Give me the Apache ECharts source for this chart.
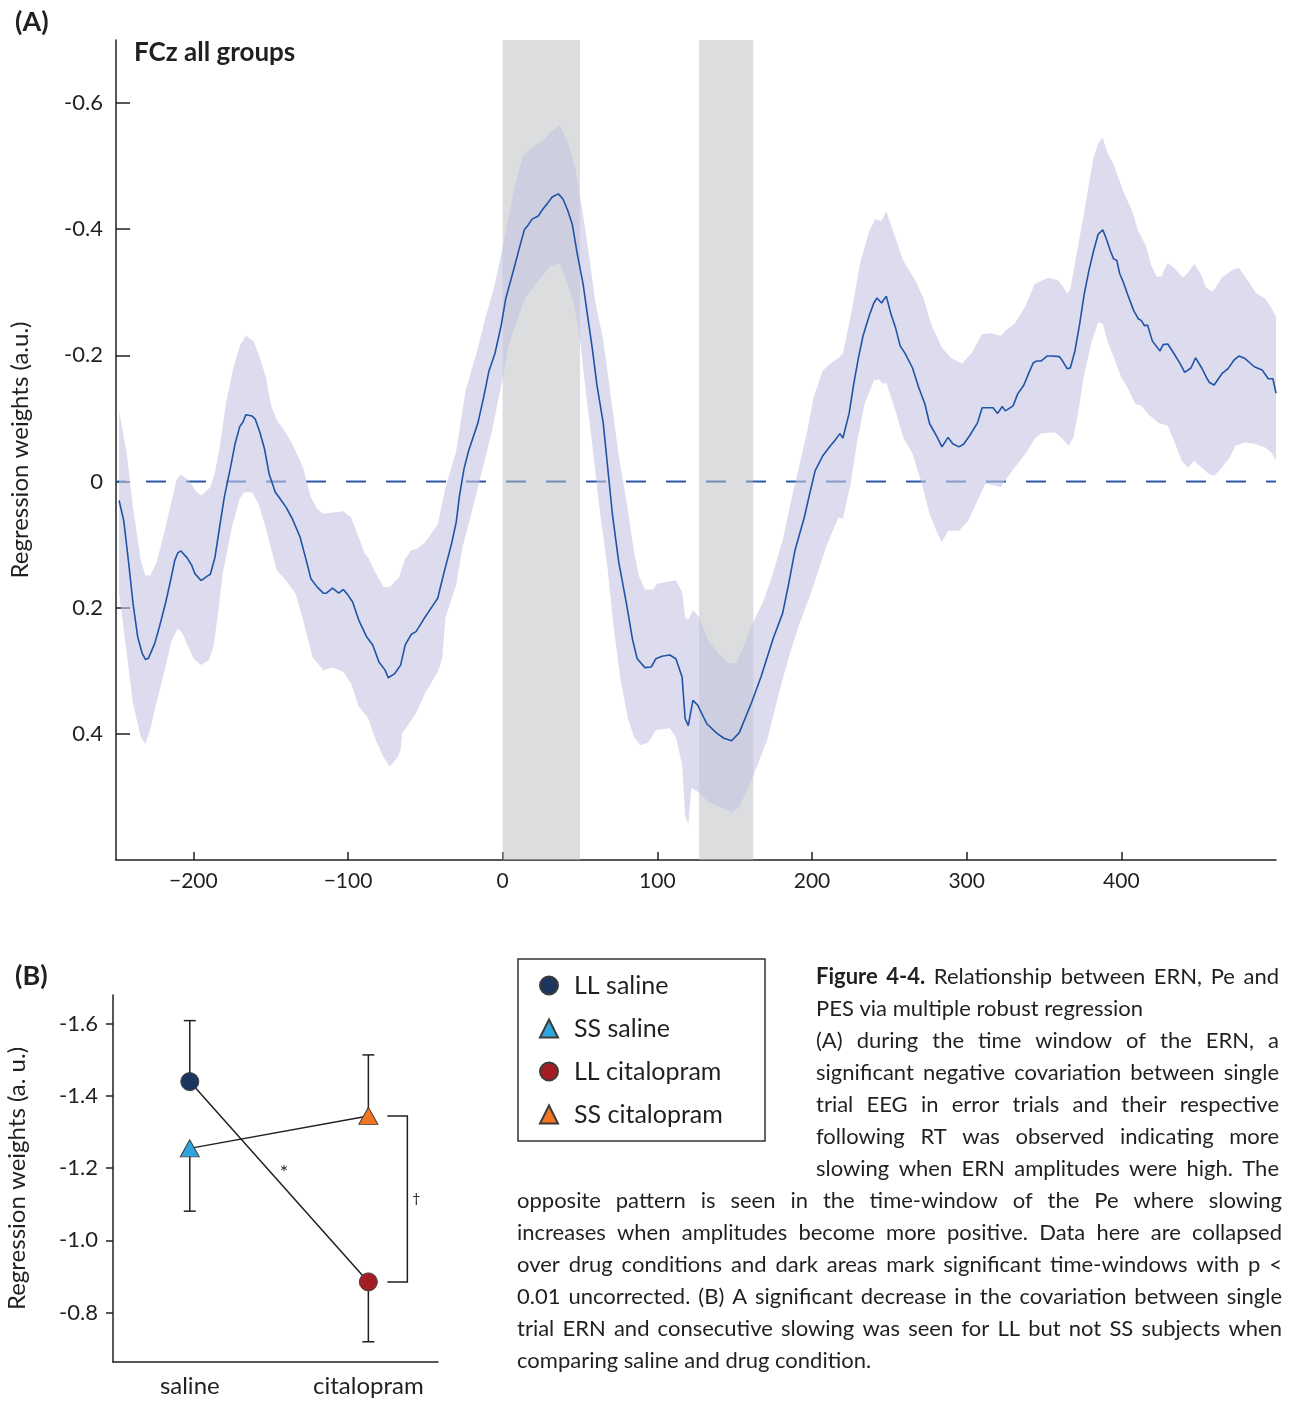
<!DOCTYPE html>
<html>
<head>
<meta charset="utf-8">
<script src="https://cdn.jsdelivr.net/npm/echarts@6/dist/echarts.min.js"></script>
<style>
  html, body { margin: 0; padding: 0; background: #fff; }
  #fig { width: 1289px; height: 1401px; }
</style>
</head>
<body>
<div id="fig"></div>
<script>
// ---------- Panel A: FCz regression weights over time (ms) ----------
const meanCurve = [
  [-248,0.030],[-245,0.062],[-242,0.125],[-239,0.193],[-236,0.246],[-233,0.273],[-231,0.282],[-229,0.280],
  [-225,0.257],[-222,0.231],[-218,0.193],[-215,0.160],[-212,0.125],[-210,0.113],[-208,0.110],[-204,0.121],
  [-201,0.133],[-199,0.146],[-195,0.157],[-194,0.158],[-191,0.150],[-189,0.147],[-186,0.120],[-183,0.072],
  [-180,0.025],[-176,-0.022],[-173,-0.060],[-170,-0.087],[-168,-0.094],[-166,-0.106],[-162,-0.104],[-160,-0.099],
  [-157,-0.078],[-154,-0.052],[-151,-0.012],[-147,0.017],[-144,0.027],[-140,0.041],[-136,0.059],[-131,0.088],
  [-127,0.125],[-124,0.154],[-120,0.167],[-116,0.177],[-114,0.177],[-110,0.169],[-106,0.177],[-103,0.171],
  [-100,0.180],[-97,0.191],[-93,0.220],[-88,0.246],[-87,0.244],[-84,0.259],[-80,0.286],[-76,0.299],
  [-74,0.311],[-70,0.305],[-66,0.291],[-63,0.259],[-59,0.242],[-56,0.238],[-51,0.218],[-45,0.196],
  [-42,0.185],[-38,0.145],[-33,0.098],[-30,0.064],[-28,0.024],[-25,-0.020],[-22,-0.049],[-16,-0.093],
  [-12,-0.137],[-9,-0.174],[-5,-0.203],[-1,-0.247],[2,-0.290],[7,-0.335],[11,-0.372],[14,-0.399],
  [16,-0.405],[19,-0.416],[23,-0.421],[26,-0.432],[29,-0.441],[32,-0.451],[36,-0.456],[39,-0.448],
  [42,-0.430],[45,-0.408],[48,-0.364],[52,-0.313],[55,-0.261],[58,-0.210],[61,-0.152],[65,-0.093],
  [68,-0.020],[71,0.053],[75,0.127],[80,0.193],[84,0.251],[87,0.281],[92,0.295],[96,0.294],
  [99,0.281],[103,0.277],[108,0.275],[112,0.281],[116,0.310],[118,0.376],[120,0.387],[123,0.347],
  [126,0.354],[132,0.384],[138,0.398],[143,0.407],[148,0.411],[153,0.398],[161,0.350],[167,0.310],
  [175,0.248],[181,0.209],[185,0.161],[189,0.109],[195,0.057],[199,0.014],[202,-0.017],[207,-0.041],
  [211,-0.054],[215,-0.066],[218,-0.076],[220,-0.069],[224,-0.108],[227,-0.155],[230,-0.196],[233,-0.231],
  [237,-0.263],[240,-0.283],[242,-0.291],[245,-0.283],[248,-0.294],[251,-0.266],[254,-0.244],[257,-0.215],
  [260,-0.204],[265,-0.180],[269,-0.149],[273,-0.123],[276,-0.092],[281,-0.070],[284,-0.055],[288,-0.070],
  [291,-0.060],[295,-0.055],[298,-0.059],[302,-0.073],[307,-0.093],[310,-0.117],[314,-0.117],[317,-0.117],
  [320,-0.108],[323,-0.119],[325,-0.112],[330,-0.120],[333,-0.139],[337,-0.153],[340,-0.171],[343,-0.188],
  [345,-0.191],[348,-0.191],[352,-0.199],[355,-0.199],[360,-0.198],[362,-0.191],[365,-0.179],[367,-0.180],
  [370,-0.207],[373,-0.249],[376,-0.297],[379,-0.334],[382,-0.365],[385,-0.392],[388,-0.399],[390,-0.387],
  [393,-0.365],[395,-0.353],[397,-0.351],[399,-0.329],[401,-0.318],[404,-0.297],[408,-0.271],[411,-0.258],
  [413,-0.255],[415,-0.247],[417,-0.248],[420,-0.223],[425,-0.207],[427,-0.217],[430,-0.218],[433,-0.207],
  [438,-0.187],[441,-0.173],[445,-0.180],[448,-0.196],[452,-0.180],[455,-0.165],[457,-0.157],[460,-0.153],
  [465,-0.171],[469,-0.179],[473,-0.193],[476,-0.199],[480,-0.195],[486,-0.182],[491,-0.177],[495,-0.163],
  [498,-0.163],[500,-0.140]
];

// upper edge of the confidence band (more negative side)
const bandUpper = [
  [-248,-0.112],[-243,-0.044],[-239,0.041],[-234,0.125],[-231,0.149],[-228,0.149],[-224,0.130],[-219,0.083],
  [-215,0.041],[-211,-0.002],[-208,-0.011],[-203,-0.002],[-198,0.016],[-195,0.022],[-189,0.009],[-186,-0.015],
  [-183,-0.054],[-179,-0.123],[-174,-0.181],[-170,-0.215],[-166,-0.231],[-161,-0.223],[-157,-0.196],[-153,-0.165],
  [-150,-0.123],[-146,-0.097],[-142,-0.084],[-136,-0.060],[-129,-0.022],[-124,0.025],[-120,0.043],[-116,0.051],
  [-110,0.049],[-103,0.047],[-98,0.057],[-94,0.083],[-89,0.115],[-87,0.120],[-83,0.141],[-77,0.167],
  [-73,0.167],[-67,0.152],[-63,0.122],[-59,0.109],[-55,0.106],[-50,0.096],[-42,0.068],[-37,0.010],
  [-30,-0.049],[-24,-0.144],[-17,-0.203],[-11,-0.261],[-5,-0.313],[0,-0.372],[7,-0.459],[13,-0.517],
  [19,-0.529],[26,-0.540],[31,-0.554],[37,-0.565],[43,-0.532],[47,-0.495],[52,-0.422],[56,-0.356],
  [60,-0.283],[65,-0.225],[69,-0.152],[75,-0.042],[81,0.046],[85,0.112],[88,0.149],[92,0.171],
  [97,0.171],[100,0.162],[108,0.158],[112,0.157],[116,0.175],[118,0.215],[120,0.219],[123,0.204],
  [127,0.215],[133,0.252],[140,0.274],[146,0.288],[151,0.288],[155,0.266],[161,0.228],[168,0.193],
  [174,0.152],[181,0.093],[187,0.025],[193,-0.038],[197,-0.081],[201,-0.133],[207,-0.176],[212,-0.187],
  [217,-0.196],[220,-0.203],[226,-0.275],[231,-0.345],[237,-0.397],[241,-0.416],[245,-0.413],[248,-0.429],
  [254,-0.386],[259,-0.350],[267,-0.318],[272,-0.291],[277,-0.250],[284,-0.212],[290,-0.196],[297,-0.187],
  [303,-0.203],[310,-0.234],[316,-0.235],[322,-0.231],[325,-0.239],[331,-0.250],[338,-0.278],[344,-0.313],
  [348,-0.318],[353,-0.323],[359,-0.319],[362,-0.310],[365,-0.298],[367,-0.305],[371,-0.360],[375,-0.413],
  [379,-0.471],[382,-0.513],[385,-0.536],[388,-0.545],[391,-0.521],[395,-0.503],[398,-0.482],[402,-0.456],
  [407,-0.429],[411,-0.397],[416,-0.373],[419,-0.345],[423,-0.324],[426,-0.326],[430,-0.347],[434,-0.339],
  [440,-0.323],[443,-0.331],[447,-0.345],[451,-0.331],[455,-0.307],[459,-0.301],[465,-0.323],[471,-0.334],
  [476,-0.339],[482,-0.318],[487,-0.299],[493,-0.290],[497,-0.275],[500,-0.262]
];

// lower edge of the confidence band (more positive side)
const bandLower = [
  [-248,0.177],[-243,0.273],[-239,0.352],[-234,0.405],[-231,0.416],[-228,0.394],[-224,0.352],[-219,0.304],
  [-214,0.252],[-210,0.233],[-207,0.241],[-200,0.280],[-195,0.291],[-190,0.283],[-187,0.262],[-184,0.209],
  [-181,0.146],[-175,0.072],[-170,0.027],[-167,0.017],[-162,0.017],[-158,0.035],[-154,0.066],[-150,0.104],
  [-146,0.141],[-140,0.157],[-134,0.177],[-129,0.220],[-123,0.278],[-116,0.299],[-110,0.295],[-103,0.302],
  [-98,0.320],[-93,0.357],[-87,0.375],[-82,0.410],[-77,0.437],[-73,0.452],[-68,0.437],[-66,0.426],
  [-65,0.399],[-62,0.389],[-56,0.367],[-50,0.335],[-42,0.302],[-39,0.280],[-37,0.215],[-30,0.163],
  [-26,0.104],[-19,0.039],[-13,-0.020],[-7,-0.079],[-1,-0.152],[4,-0.217],[10,-0.261],[14,-0.288],
  [19,-0.306],[25,-0.324],[31,-0.342],[37,-0.346],[41,-0.320],[46,-0.283],[50,-0.225],[54,-0.137],
  [58,-0.057],[62,0.031],[68,0.141],[72,0.236],[76,0.310],[81,0.376],[85,0.405],[89,0.418],
  [94,0.414],[99,0.394],[108,0.391],[112,0.405],[116,0.449],[118,0.530],[120,0.544],[122,0.486],
  [127,0.493],[133,0.508],[140,0.515],[148,0.525],[153,0.515],[161,0.473],[171,0.410],[178,0.341],
  [185,0.278],[192,0.225],[200,0.172],[209,0.104],[217,0.057],[220,0.059],[225,0.003],[229,-0.060],
  [234,-0.123],[240,-0.160],[243,-0.162],[246,-0.155],[248,-0.157],[254,-0.112],[259,-0.070],[265,-0.044],
  [271,0.003],[276,0.051],[281,0.082],[284,0.096],[288,0.078],[295,0.078],[301,0.062],[308,0.025],
  [312,0.003],[318,0.006],[322,0.009],[325,-0.002],[331,-0.022],[338,-0.044],[344,-0.068],[348,-0.076],
  [357,-0.078],[361,-0.070],[366,-0.057],[369,-0.070],[372,-0.108],[376,-0.171],[381,-0.223],[385,-0.252],
  [388,-0.250],[391,-0.223],[396,-0.191],[400,-0.165],[404,-0.149],[409,-0.123],[413,-0.120],[417,-0.108],
  [424,-0.093],[430,-0.089],[434,-0.065],[439,-0.033],[443,-0.022],[447,-0.033],[452,-0.022],[456,-0.013],
  [460,-0.009],[465,-0.022],[470,-0.038],[474,-0.057],[480,-0.062],[486,-0.060],[493,-0.054],[497,-0.046],
  [500,-0.033]
];

// significant time windows (ms)
const sigWindows = [[0, 50], [127, 162]];
const timeTicks = [-200, -100, 0, 100, 200, 300, 400];
const weightTicksA = [-0.6, -0.4, -0.2, 0, 0.2, 0.4];

// ---------- Panel B: group x drug regression weights ----------
const conditions = ['saline', 'citalopram'];
const groupNames = ['LL saline', 'SS saline', 'LL citalopram', 'SS citalopram'];
const llMeans = [-1.44, -0.885];
const llErrEnds = [-1.609, -0.719];
const ssMeans = [-1.255, -1.345];
const ssErrEnds = [-1.081, -1.514];
const weightTicksB = [-1.6, -1.4, -1.2, -1.0, -0.8];

// ---------- caption ----------
const captionSide = [
  'Figure 4-4. Relationship between ERN, Pe and',
  'PES via multiple robust regression',
  '(A) during the time window of the ERN, a',
  'significant negative covariation between single',
  'trial EEG in error trials and their respective',
  'following RT was observed indicating more',
  'slowing when ERN amplitudes were high. The'
];
const captionWide = [
  'opposite pattern is seen in the time-window of the Pe where slowing',
  'increases when amplitudes become more positive. Data here are collapsed',
  'over drug conditions and dark areas mark significant time-windows with p <',
  '0.01 uncorrected. (B) A significant decrease in the covariation between single',
  'trial ERN and consecutive slowing was seen for LL but not SS subjects when',
  'comparing saline and drug condition.'
];

const FONT = 'Lato';
const INK = '#231f20';
const LINE_BLUE = '#1f54a6';
const CAPTION_SIZE = 22;

// ---- caption layout: justified lines built word by word ----
const measureCtx = document.createElement('canvas').getContext('2d');
function wordWidth(word, size, weight) {
  measureCtx.font = weight + ' ' + size + 'px ' + FONT;
  return measureCtx.measureText(word).width;
}
function captionLine(text, x0, x1, y, justify, boldCount) {
  const size = CAPTION_SIZE;
  const words = text.split(' ');
  const weights = words.map((w, i) => (i < boldCount ? 'bold' : 'normal'));
  const widths = words.map((w, i) => wordWidth(w, size, weights[i]));
  const total = widths.reduce((a, b) => a + b, 0);
  const gap = justify && words.length > 1 ? (x1 - x0 - total) / (words.length - 1) : wordWidth(' ', size, 'normal');
  const out = [];
  let x = x0;
  words.forEach((w, i) => {
    out.push({
      type: 'text', x: x, y: y, silent: true,
      style: { text: w, fill: INK, fontFamily: FONT, fontSize: size, fontWeight: weights[i], verticalAlign: 'middle' }
    });
    x += widths[i] + gap;
  });
  return out;
}
const captionGraphics = [];
captionSide.forEach((line, i) => {
  captionGraphics.push(...captionLine(line, 816, 1279, 977 + 32 * i, i !== 1, i === 0 ? 2 : 0));
});
captionWide.forEach((line, i) => {
  captionGraphics.push(...captionLine(line, 517, 1282, 1201 + 32 * i, i !== captionWide.length - 1, 0));
});

const chart = echarts.init(document.getElementById('fig'), null, { renderer: 'canvas' });

const hyphenNum = v => (Math.abs(v) < 1e-9 ? '0' : (Math.round(v * 10) / 10).toString());

const option = {
  animation: false,
  backgroundColor: '#ffffff',
  textStyle: { fontFamily: FONT },
  grid: [
    { left: 113, top: 40, width: 1163, height: 820 },
    { left: 113, top: 995, width: 325, height: 367 }
  ],
  xAxis: [
    {
      gridIndex: 0, type: 'value', min: -250, max: 500,
      splitLine: { show: false },
      axisLine: { onZero: false, lineStyle: { color: INK, width: 1.5 } },
      axisTick: { inside: true, length: 8, lineStyle: { color: INK, width: 1.5 }, customValues: timeTicks },
      axisLabel: {
        customValues: timeTicks, margin: 11, color: INK, fontSize: 21, fontFamily: FONT,
        formatter: v => String(v).replace('-', '\u2212')
      }
    },
    {
      gridIndex: 1, type: 'value', min: -0.43, max: 1.39,
      splitLine: { show: false },
      axisLine: { onZero: false, lineStyle: { color: INK, width: 1.5 } },
      axisTick: { show: false },
      axisLabel: {
        customValues: [0, 1], margin: 12, color: INK, fontSize: 24, fontFamily: FONT,
        formatter: v => conditions[Math.round(v)]
      }
    }
  ],
  yAxis: [
    {
      gridIndex: 0, type: 'value', min: -0.7, max: 0.6, inverse: true,
      splitLine: { show: false },
      axisLine: { show: true, onZero: false, lineStyle: { color: INK, width: 1.5 } },
      axisTick: { show: true, inside: true, length: 14, lineStyle: { color: INK, width: 1.5 }, customValues: weightTicksA },
      axisLabel: { customValues: weightTicksA, margin: 13, color: INK, fontSize: 22, fontFamily: FONT, formatter: hyphenNum },
      name: 'Regression weights (a.u.)', nameLocation: 'middle', nameGap: 84,
      nameTextStyle: { color: INK, fontSize: 24, fontFamily: FONT }
    },
    {
      gridIndex: 1, type: 'value', min: -1.68, max: -0.663, inverse: true,
      splitLine: { show: false },
      axisLine: { show: true, onZero: false, lineStyle: { color: INK, width: 1.5 } },
      axisTick: { show: true, inside: false, length: 7, lineStyle: { color: INK, width: 1.5 }, customValues: weightTicksB },
      axisLabel: { customValues: weightTicksB, margin: 15, color: INK, fontSize: 22, fontFamily: FONT,
        formatter: v => v.toFixed(1) },
      name: 'Regression weights (a. u.)', nameLocation: 'middle', nameGap: 84,
      nameTextStyle: { color: INK, fontSize: 24, fontFamily: FONT }
    }
  ],
  legend: {
    data: groupNames, orient: 'vertical', left: 539, top: 973, padding: 0,
    itemWidth: 18, itemHeight: 18, itemGap: 18, selectedMode: false,
    textStyle: { color: INK, fontSize: 25, fontFamily: FONT, padding: [0, 0, 0, 11] }
  },
  series: [
    // zero reference line
    {
      type: 'line', xAxisIndex: 0, yAxisIndex: 0, z: 1, silent: true, symbol: 'none',
      data: [[-250, 0], [500, 0]],
      lineStyle: { color: '#2a5aa8', width: 2, type: [20, 20], dashOffset: 10 }
    },
    // significant windows
    {
      type: 'custom', xAxisIndex: 0, yAxisIndex: 0, z: 2, silent: true,
      data: sigWindows, encode: { x: [0, 1] },
      renderItem: (params, api) => {
        const cs = params.coordSys;
        const a = api.coord([api.value(0), 0])[0];
        const b = api.coord([api.value(1), 0])[0];
        return { type: 'rect', shape: { x: a, y: cs.y, width: b - a, height: cs.height },
          style: { fill: 'rgba(185,187,191,0.5)' } };
      }
    },
    // confidence band
    {
      type: 'custom', xAxisIndex: 0, yAxisIndex: 0, z: 3, silent: true,
      data: [[0, 0]], encode: { x: 0, y: 1 },
      renderItem: (params, api) => {
        const pts = bandUpper.map(p => api.coord(p))
          .concat(bandLower.slice().reverse().map(p => api.coord(p)));
        return { type: 'polygon', shape: { points: pts }, style: { fill: 'rgba(197,197,227,0.6)' } };
      }
    },
    // mean regression weight
    {
      type: 'line', xAxisIndex: 0, yAxisIndex: 0, z: 4, silent: true, symbol: 'none',
      data: meanCurve, lineStyle: { color: LINE_BLUE, width: 1.6 }
    },
    // Panel B connecting lines
    {
      type: 'line', xAxisIndex: 1, yAxisIndex: 1, z: 2, silent: true, symbol: 'none',
      data: [[0, llMeans[0]], [1, llMeans[1]]], lineStyle: { color: INK, width: 1.5 }
    },
    {
      type: 'line', xAxisIndex: 1, yAxisIndex: 1, z: 2, silent: true, symbol: 'none',
      data: [[0, ssMeans[0]], [1, ssMeans[1]]], lineStyle: { color: INK, width: 1.5 }
    },
    // error bars (one-sided)
    {
      type: 'custom', xAxisIndex: 1, yAxisIndex: 1, z: 2, silent: true,
      data: [[0, llMeans[0], llErrEnds[0]], [1, llMeans[1], llErrEnds[1]],
             [0, ssMeans[0], ssErrEnds[0]], [1, ssMeans[1], ssErrEnds[1]]],
      encode: { x: 0, y: [1, 2] },
      renderItem: (params, api) => {
        const p0 = api.coord([api.value(0), api.value(1)]);
        const p1 = api.coord([api.value(0), api.value(2)]);
        const st = { stroke: INK, lineWidth: 1.5 };
        return { type: 'group', children: [
          { type: 'line', shape: { x1: p0[0], y1: p0[1], x2: p1[0], y2: p1[1] }, style: st },
          { type: 'line', shape: { x1: p1[0] - 6, y1: p1[1], x2: p1[0] + 6, y2: p1[1] }, style: st }
        ] };
      }
    },
    // significance annotations
    {
      type: 'custom', xAxisIndex: 1, yAxisIndex: 1, z: 2, silent: true,
      data: [[0, llMeans[0], 1, llMeans[1], ssMeans[1]]],
      encode: { x: [0, 2], y: [1, 3, 4] },
      renderItem: (params, api) => {
        const a = api.coord([api.value(0), api.value(1)]);
        const b = api.coord([api.value(2), api.value(3)]);
        const c = api.coord([api.value(2), api.value(4)]);
        const st = { stroke: INK, lineWidth: 1.5, fill: null };
        const mx = (a[0] + b[0]) / 2, my = (a[1] + b[1]) / 2;
        return { type: 'group', children: [
          { type: 'polyline', shape: { points: [[c[0] + 19, c[1]], [c[0] + 39, c[1]], [c[0] + 39, b[1]], [c[0] + 19, b[1]]] }, style: st },
          { type: 'text', x: mx + 5, y: my - 9, style: { text: '*', fill: INK, fontSize: 20, fontFamily: FONT, align: 'center', verticalAlign: 'middle' } },
          { type: 'text', x: c[0] + 48, y: (b[1] + c[1]) / 2, style: { text: '\u2020', fill: INK, fontSize: 14, fontFamily: FONT, align: 'center', verticalAlign: 'middle' } }
        ] };
      }
    },
    // group markers
    {
      name: groupNames[0], type: 'scatter', xAxisIndex: 1, yAxisIndex: 1, z: 5, silent: true,
      symbol: 'circle', symbolSize: 18, data: [[0, llMeans[0]]],
      itemStyle: { color: '#1b365f', borderColor: '#3c3c3c', borderWidth: 1, opacity: 1 }
    },
    {
      name: groupNames[1], type: 'scatter', xAxisIndex: 1, yAxisIndex: 1, z: 5, silent: true,
      symbol: 'triangle', symbolSize: [19, 17], data: [[0, ssMeans[0]]],
      itemStyle: { color: '#2ea5de', borderColor: '#3c3c3c', borderWidth: 1, opacity: 1 }
    },
    {
      name: groupNames[2], type: 'scatter', xAxisIndex: 1, yAxisIndex: 1, z: 5, silent: true,
      symbol: 'circle', symbolSize: 18, data: [[1, llMeans[1]]],
      itemStyle: { color: '#a51d24', borderColor: '#3c3c3c', borderWidth: 1, opacity: 1 }
    },
    {
      name: groupNames[3], type: 'scatter', xAxisIndex: 1, yAxisIndex: 1, z: 5, silent: true,
      symbol: 'triangle', symbolSize: [19, 17], data: [[1, ssMeans[1]]],
      itemStyle: { color: '#f37521', borderColor: '#3c3c3c', borderWidth: 1, opacity: 1 }
    }
  ],
  graphic: [
    { type: 'text', x: 15, y: 22, silent: true,
      style: { text: '(A)', fill: INK, fontFamily: FONT, fontSize: 27, fontWeight: 'bold', verticalAlign: 'middle' } },
    { type: 'text', x: 134, y: 53, silent: true,
      style: { text: 'FCz all groups', fill: INK, fontFamily: FONT, fontSize: 26, fontWeight: 'bold', verticalAlign: 'middle' } },
    { type: 'text', x: 15, y: 976, silent: true,
      style: { text: '(B)', fill: INK, fontFamily: FONT, fontSize: 27, fontWeight: 'bold', verticalAlign: 'middle' } },
    { type: 'rect', silent: true, shape: { x: 518, y: 959, width: 247, height: 182 },
      style: { fill: null, stroke: '#333333', lineWidth: 1.5 } },
    ...captionGraphics
  ]
};

chart.setOption(option);
</script>
</body>
</html>
